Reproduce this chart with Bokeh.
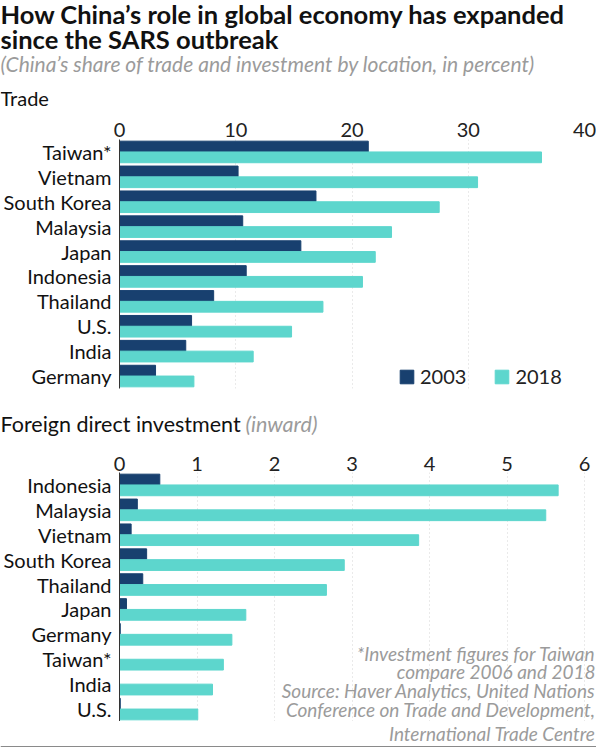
from bokeh.plotting import figure
from bokeh.models import (FactorRange, Range1d, FixedTicker, Label, Legend, LegendItem,
                          ColumnDataSource, BoxAnnotation)
from bokeh.transform import dodge
from bokeh.layouts import column, row
from bokeh.embed import file_html
from bokeh.resources import INLINE

# ---------------- data ----------------
trade_countries = ["Taiwan*", "Vietnam", "South Korea", "Malaysia", "Japan",
                   "Indonesia", "Thailand", "U.S.", "India", "Germany"]
trade_2003 = [21.4, 10.2, 16.9, 10.6, 15.6, 10.9, 8.1, 6.2, 5.7, 3.1]
trade_2018 = [36.3, 30.8, 27.5, 23.4, 22.0, 20.9, 17.5, 14.8, 11.5, 6.4]
trade_ticks = [0, 10, 20, 30, 40]

fdi_countries = ["Indonesia", "Malaysia", "Vietnam", "South Korea", "Thailand",
                 "Japan", "Germany", "Taiwan*", "India", "U.S."]
fdi_2003 = [0.52, 0.23, 0.15, 0.35, 0.30, 0.09, 0.01, 0.0, 0.0, 0.01]
fdi_2018 = [5.66, 5.50, 3.86, 2.90, 2.67, 1.63, 1.45, 1.34, 1.20, 1.01]
fdi_ticks = [0, 1, 2, 3, 4, 5, 6]

series_labels = ["2003", "2018"]

title_lines = ["How China\u2019s role in global economy has expanded",
               "since the SARS outbreak"]
subtitle = "(China\u2019s share of trade and investment by location, in percent)"
panel1_title = "Trade"
panel2_title = "Foreign direct investment"
panel2_note = "(inward)"
footnote_lines = ["*Investment figures for Taiwan",
                  "compare 2006 and 2018",
                  "Source: Haver Analytics, United Nations",
                  "Conference on Trade and Development,",
                  "International Trade Centre"]

# ---------------- style ----------------
FONT = "Lato"
DARK = "#18406f"
CYAN = "#5dd6cd"
GRAY = "#9b9b9b"
W = 596
LEFT = 119          # frame left (page x)
FRAME_H = 249


def no_align(p):
    try:
        p.frame_align = False
    except Exception:
        pass
    return p


def text_fig(height):
    """A figure whose frame is the whole canvas: 1 data unit = 1 pixel, y downwards."""
    p = figure(width=W, height=height, x_range=Range1d(0, W), y_range=Range1d(height, 0),
               output_backend="svg", toolbar_location=None, title=None,
               x_axis_type=None, y_axis_type=None,
               min_border=0, min_border_left=0, min_border_right=0,
               min_border_top=0, min_border_bottom=0)
    p.outline_line_color = None
    p.grid.visible = False
    return no_align(p)


def add_text(p, x, y, text, size, color="#111111", style="normal", align="left",
             units="data"):
    p.add_layout(Label(x=x, y=y, x_units=units, y_units=units, text=text,
                       text_font=FONT, text_font_size=f"{size}px", text_color=color,
                       text_font_style=style, text_align=align, text_baseline="middle"))


def make_panel(countries, v03, v18, xmax, ticks, height, border_top, frame_w, standoff):
    src = ColumnDataSource(dict(country=countries, v03=v03, v18=v18))
    p = figure(width=W, height=height,
               y_range=FactorRange(factors=list(reversed(countries))),
               x_range=Range1d(0, xmax), x_axis_location="above",
               output_backend="svg", toolbar_location=None, title=None,
               min_border_left=LEFT, min_border_right=W - LEFT - frame_w,
               min_border_top=border_top,
               min_border_bottom=height - border_top - FRAME_H)
    p.outline_line_color = None
    r1 = p.hbar(y=dodge("country", 0.2165, range=p.y_range), left=0, right="v03",
                height=0.433, color=DARK, source=src)
    r2 = p.hbar(y=dodge("country", -0.2165, range=p.y_range), left=0, right="v18",
                height=0.433, color=CYAN, source=src)

    xa = p.xaxis[0]
    xa.ticker = FixedTicker(ticks=ticks)
    xa.axis_line_color = None
    xa.major_tick_line_color = None
    xa.minor_tick_line_color = None
    xa.major_tick_out = 0
    xa.major_tick_in = 0
    xa.major_label_standoff = standoff
    xa.major_label_text_font = FONT
    xa.major_label_text_font_size = "20px"
    xa.major_label_text_color = "#222222"

    ya = p.yaxis[0]
    ya.axis_line_color = "#333333"
    ya.axis_line_width = 1
    ya.major_tick_line_color = None
    ya.minor_tick_line_color = None
    ya.major_tick_out = 0
    ya.major_tick_in = 0
    ya.major_label_standoff = 8
    ya.major_label_text_font = FONT
    ya.major_label_text_font_size = "20px"
    ya.major_label_text_color = "#111111"

    p.xgrid.grid_line_color = "#d4d4d4"
    p.xgrid.grid_line_dash = "1 3"
    p.ygrid.grid_line_color = None
    return no_align(p), r1, r2


# ---------------- header (page y 0-110) ----------------
h1 = text_fig(110)
add_text(h1, 0, 13, title_lines[0], 25.5, "#111111", "bold")
add_text(h1, 0, 38, title_lines[1], 25.5, "#111111", "bold")
add_text(h1, 0, 63, subtitle, 21, GRAY, "italic")
add_text(h1, 0, 97.5, panel1_title, 20)

# ---------------- panel 1: trade (page y 110-408, frame 139-388) ----------------
p1, a1, b1 = make_panel(trade_countries, trade_2003, trade_2018, 40, trade_ticks,
                        height=298, border_top=29, frame_w=465, standoff=3)
legend = Legend(items=[LegendItem(label=series_labels[0], renderers=[a1]),
                       LegendItem(label=series_labels[1], renderers=[b1])],
                orientation="horizontal", location=(279, 0),
                glyph_width=17, glyph_height=17, label_height=17, label_standoff=5,
                spacing=27, padding=0, margin=0, border_line_color=None,
                background_fill_alpha=0, label_text_font=FONT,
                label_text_font_size="20px", label_text_color="#222222")
p1.add_layout(legend)

# ---------------- header 2 (page y 408-438) ----------------
h2 = text_fig(30)
add_text(h2, 0, 15, panel2_title, 21.5)
add_text(h2, 245, 15, panel2_note, 21.5, GRAY, "italic")

# ---------------- panel 2: FDI (page y 438-721, frame 472-721) ----------------
fw2 = W - LEFT
p2, a2, b2 = make_panel(fdi_countries, fdi_2003, fdi_2018, 6 * fw2 / 465, fdi_ticks,
                        height=283, border_top=34, frame_w=fw2, standoff=2)
fb2 = 721
foot_y = [653, 671, 690, 709]
for t, yy in zip(footnote_lines[:4], foot_y):
    add_text(p2, fw2 - 1, fb2 - yy, t, 19, GRAY, "italic", "right", units="screen")

# ---------------- footer (page y 721-747) ----------------
f1 = text_fig(26)
add_text(f1, W - 1, 12, footnote_lines[4], 19, GRAY, "italic", "right")
f1.add_layout(BoxAnnotation(left=0, right=W, top=24.5, bottom=26, fill_color="#8a8a8a",
                            fill_alpha=1, line_color=None))

layout = column(row(h1), row(p1), row(h2), row(p2), row(f1))
open("out.html", "w").write(file_html(layout, INLINE))
